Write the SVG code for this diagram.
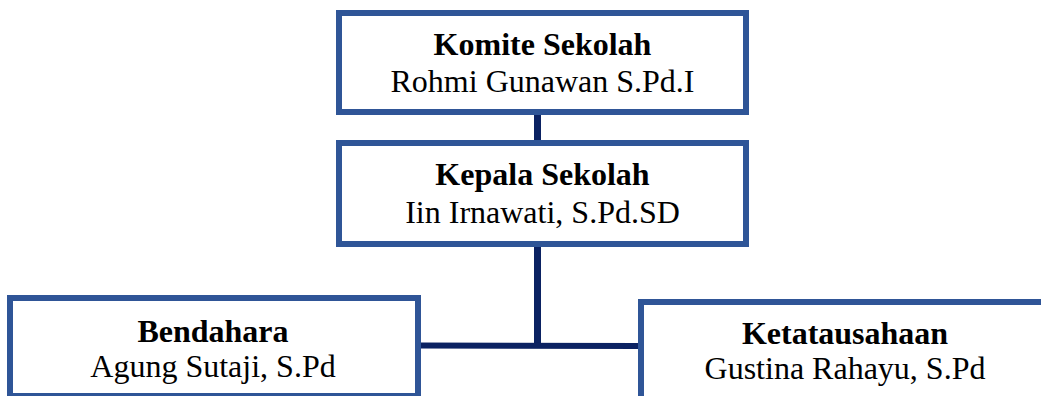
<svg xmlns="http://www.w3.org/2000/svg" width="1041" height="396" viewBox="0 0 1041 396">
<style>
.box{fill:#ffffff;stroke:#2F5597;stroke-width:6}
.con{stroke:#0B2262;fill:none}
.t{font-family:"Liberation Serif","Times New Roman",serif;font-size:32px;fill:#000;text-anchor:middle}
.b{font-weight:bold}
</style>
<rect width="1041" height="396" fill="#ffffff"/>
<g id="connectors">
<line class="con" x1="537.5" y1="114" x2="537.5" y2="141" stroke-width="7"/>
<line class="con" x1="537.5" y1="246" x2="537.5" y2="346" stroke-width="7"/>
<line class="con" x1="420" y1="345.5" x2="639" y2="346" stroke-width="6"/>
</g>
<g id="komite">
<rect class="box" x="339" y="13" width="407" height="99"/>
<text class="t b" x="542.5" y="55">Komite Sekolah</text>
<text class="t" x="542.5" y="92">Rohmi Gunawan S.Pd.I</text>
</g>
<g id="kepala">
<rect class="box" x="339" y="143" width="407" height="101"/>
<text class="t b" x="542.5" y="185">Kepala Sekolah</text>
<text class="t" x="542.5" y="223">Iin Irnawati, S.Pd.SD</text>
</g>
<g id="bendahara">
<rect class="box" x="10" y="298" width="408" height="98"/>
<text class="t b" x="213" y="341.5">Bendahara</text>
<text class="t" x="213" y="377">Agung Sutaji, S.Pd</text>
</g>
<g id="ketatausahaan">
<rect class="box" x="641" y="302" width="408" height="100"/>
<text class="t b" x="845" y="344">Ketatausahaan</text>
<text class="t" x="845" y="379">Gustina Rahayu, S.Pd</text>
</g>
</svg>
